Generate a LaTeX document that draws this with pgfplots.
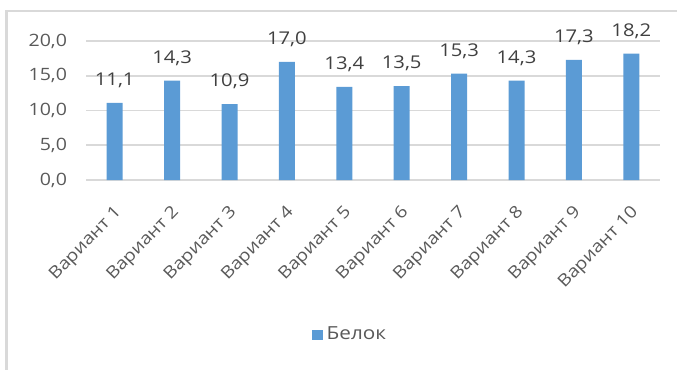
\documentclass[border=0pt]{standalone}
\usepackage{pgfplots}
\pgfplotsset{compat=1.18}
\usepackage{fontspec}
\setmainfont{Open Sans}[FakeStretch=1.15]
\definecolor{barblue}{HTML}{5B9BD5}
\definecolor{gridgray}{HTML}{D9D9D9}
\definecolor{ticktext}{HTML}{595959}
\definecolor{labeltext}{HTML}{404040}
\begin{document}
\begin{tikzpicture}
\useasboundingbox (0pt,0pt) rectangle (338.5pt,185pt);
\draw[gridgray, line width=1.2pt] (3.25pt,-3pt) -- (3.25pt,179.5pt) -- (345pt,179.5pt);
\begin{axis}[
  at={(43pt,95pt)}, anchor=south west,
  scale only axis, width=287pt, height=69.5pt,
  xmin=-0.5, xmax=9.5, ymin=0, ymax=20,
  ytick={0,5,10,15,20},
  xtick={0,...,9},
  xticklabels={Вариант 1,Вариант 2,Вариант 3,Вариант 4,Вариант 5,Вариант 6,Вариант 7,Вариант 8,Вариант 9,Вариант 10},
  xticklabel style={xshift=4.6pt, yshift=-12.2pt, rotate=46, anchor=east, font=\fontsize{8.4}{10}\selectfont, text=ticktext},
  yticklabel style={font=\fontsize{8.5}{10}\selectfont, text=ticktext, xshift=-6pt},
  major tick length=0pt,
  axis line style={draw=none},
  ymajorgrids, grid style={gridgray, line width=0.8pt},
  /pgf/number format/.cd, fixed, fixed zerofill, precision=1, use comma, assume math mode=true,
  /pgfplots/.cd,
  ybar, bar width=8pt,
  nodes near coords,
  nodes near coords style={font=\fontsize{8.8}{10}\selectfont, text=labeltext, yshift=4pt,
    /pgf/number format/.cd, fixed, fixed zerofill, precision=1, use comma, assume math mode=true},
  legend style={at={(0.462,-1.115)}, anchor=center, draw=none, font=\fontsize{9}{11}\selectfont, text=ticktext},
  legend image code/.code={\fill[barblue] (0pt,-2.6pt) rectangle (5.2pt,2.6pt);},
]
\addplot[fill=barblue, draw=none] coordinates {
  (0,11.1) (1,14.3) (2,10.9) (3,17.0) (4,13.4) (5,13.5) (6,15.3) (7,14.3) (8,17.3) (9,18.2)
};
\addlegendentry{Белок}
\end{axis}
\end{tikzpicture}
\end{document}
